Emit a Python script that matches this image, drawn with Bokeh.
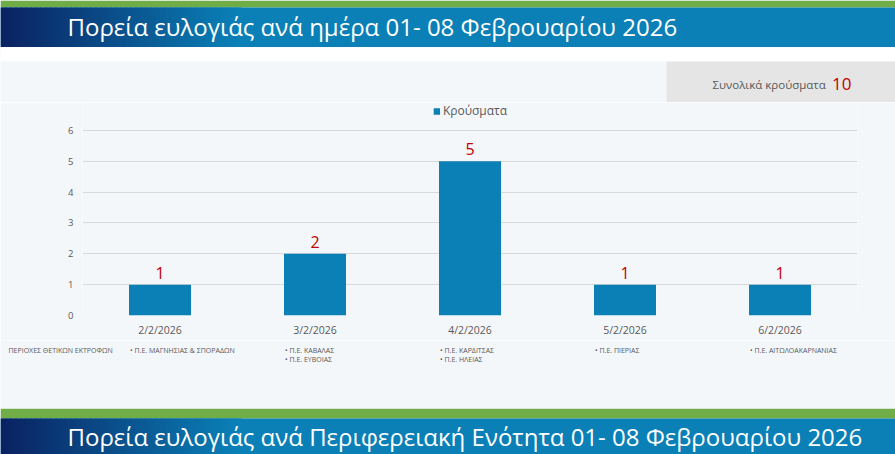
from bokeh.plotting import figure
from bokeh.layouts import column
from bokeh.models import (ColumnDataSource, FactorRange, Range1d, FixedTicker,
                          Legend, LegendItem)
from bokeh.core.properties import value
from bokeh.embed import file_html
from bokeh.resources import INLINE

# ---------------- data ----------------
dates = ["2/2/2026", "3/2/2026", "4/2/2026", "5/2/2026", "6/2/2026"]
cases = [1, 2, 5, 1, 1]
regions = [
    ["Π.Ε. ΜΑΓΝΗΣΙΑΣ & ΣΠΟΡΑΔΩΝ"],
    ["Π.Ε. ΚΑΒΑΛΑΣ", "Π.Ε. ΕΥΒΟΙΑΣ"],
    ["Π.Ε. ΚΑΡΔΙΤΣΑΣ", "Π.Ε. ΗΛΕΙΑΣ"],
    ["Π.Ε. ΠΙΕΡΙΑΣ"],
    ["Π.Ε. ΑΙΤΩΛΟΑΚΑΡΝΑΝΙΑΣ"],
]
y_ticks = [0, 1, 2, 3, 4, 5, 6]
series_name = "Κρούσματα"
title_top = "Πορεία ευλογιάς ανά ημέρα 01- 08 Φεβρουαρίου 2026"
title_bottom = "Πορεία ευλογιάς ανά Περιφερειακή Ενότητα 01- 08 Φεβρουαρίου 2026"
regions_caption = "ΠΕΡΙΟΧΕΣ ΘΕΤΙΚΩΝ ΕΚΤΡΟΦΩΝ"
total_caption = "Συνολικά κρούσματα"

# ---------------- style ----------------
W = 895
LEFT, RIGHT = 82, 38
STEP = (W - LEFT - RIGHT) / len(dates)
FONT = "Open Sans"
BAR = "#0a80b7"
GREEN = "#70ad47"
BLUE = (10, 128, 183)
NAVY = (10, 34, 98)
RED = "#c00000"
GREY_TXT = "#595959"
BG = "#f4f7fa"


def deco_fig(h, x_range=None):
    f = figure(width=W, height=h, x_range=x_range or Range1d(0, W),
               y_range=Range1d(h, 0), output_backend="svg", toolbar_location=None,
               x_axis_location=None, y_axis_location=None, min_border=0,
               frame_align=False)
    f.min_border_left = f.min_border_right = f.min_border_top = f.min_border_bottom = 0
    f.background_fill_color = BG
    f.border_fill_color = BG
    f.outline_line_color = None
    f.grid.visible = False
    f.title.visible = False
    return f


def band_fig(h, green_h, title, title_y):
    f = deco_fig(h)
    f.quad(left=0, right=W, top=0, bottom=green_h, fill_color=GREEN, line_color=None)
    f.quad(left=0, right=W, top=green_h, bottom=h,
           fill_color="#%02x%02x%02x" % BLUE, line_color=None)
    steps = 48
    lefts, rights, cols = [], [], []
    for i in range(steps):
        t = i / (steps - 1)
        c = tuple(round(a + (b - a) * t) for a, b in zip(NAVY, BLUE))
        lefts.append(i * 5)
        rights.append(i * 5 + 6)
        cols.append("#%02x%02x%02x" % c)
    f.quad(left=lefts, right=rights, top=green_h, bottom=h, fill_color=cols,
           line_color=None)
    f.text(x=[67], y=[title_y], text=[title], text_color="white",
           text_font=value(FONT), text_font_size="24px", text_baseline="middle")
    return f


# header (page y 0-47)
hdr = band_fig(47, 7, title_top, 26)

# white strip + total box (page y 47-102)
TOP_H = 55
top = deco_fig(TOP_H)
top.quad(left=0, right=W, top=0, bottom=14, fill_color="white", line_color=None)
top.quad(left=666, right=W, top=14, bottom=TOP_H, fill_color="#e5e5e5", line_color=None)
top.text(x=[712], y=[37], text=[total_caption], text_color=GREY_TXT,
         text_font=value(FONT), text_font_size="11.5px", text_baseline="middle")
top.text(x=[851], y=[36], text=[str(sum(cases))], text_color=RED,
         text_font=value(FONT), text_font_size="17px", text_baseline="middle",
         text_align="right")

# chart (page y 102-340)
p = figure(width=W, height=238, x_range=FactorRange(factors=dates, range_padding=0),
           y_range=Range1d(0, 6.908), output_backend="svg", toolbar_location=None,
           min_border_left=LEFT, min_border_right=RIGHT, min_border_top=0,
           min_border_bottom=25, frame_align=False)
p.title.visible = False
p.background_fill_color = BG
p.border_fill_color = BG
p.outline_line_color = None

src = ColumnDataSource(dict(x=dates, top=cases, lbl=[str(v) for v in cases]))
bars = p.vbar(x="x", top="top", width=0.4, source=src, fill_color=BAR, line_color=None)
p.text(x="x", y="top", text="lbl", source=src, text_align="center",
       text_baseline="alphabetic", y_offset=-12, text_color=RED,
       text_font=value(FONT), text_font_size="16px")

p.yaxis.ticker = FixedTicker(ticks=y_ticks)
p.yaxis.axis_line_color = None
p.yaxis.major_tick_line_color = None
p.yaxis.minor_tick_line_color = None
p.yaxis.major_tick_out = 0
p.yaxis.major_label_standoff = 9
p.yaxis.major_label_text_font = FONT
p.yaxis.major_label_text_font_size = "9.5px"
p.yaxis.major_label_text_color = GREY_TXT
p.xaxis.axis_line_color = None
p.xaxis.major_tick_line_color = None
p.xaxis.major_tick_out = 0
p.xaxis.major_label_standoff = 7
p.xaxis.major_label_text_font = FONT
p.xaxis.major_label_text_font_size = "10.5px"
p.xaxis.major_label_text_color = GREY_TXT
p.xgrid.grid_line_color = None
p.ygrid.grid_line_color = "#d9d9d9"

legend = Legend(items=[LegendItem(label=series_name, renderers=[bars])],
                orientation="horizontal", location="top_center",
                background_fill_alpha=0, border_line_color=None,
                label_text_font=FONT, label_text_font_size="12px",
                label_text_color=GREY_TXT, glyph_width=8, glyph_height=8,
                label_standoff=3, padding=0, margin=0, label_height=10)
p.add_layout(legend)

# regions row (page y 340-408), x in the chart's synthetic category coordinates
reg = deco_fig(68, x_range=Range1d(-LEFT / STEP, len(dates) + RIGHT / STEP))
centers = [i + 0.5 for i in range(len(dates))]
row1 = ["• " + r[0] if len(r) > 0 else "" for r in regions]
row2 = ["• " + r[1] if len(r) > 1 else "" for r in regions]
for yy, txt in ((10, row1), (19, row2)):
    reg.text(x=centers, y=[yy] * len(dates), text=txt, x_offset=-30,
             text_color=GREY_TXT, text_font=value(FONT), text_font_size="7px",
             text_baseline="middle")
reg.text(x=[-LEFT / STEP], y=[10], text=[regions_caption], x_offset=8,
         text_color=GREY_TXT, text_font=value(FONT), text_font_size="7px",
         text_baseline="middle")

# footer (page y 408-454)
ftr = band_fig(46, 10, title_bottom, 28)

layout = column(hdr, top, p, reg, ftr, spacing=0)
open("out.html", "w").write(file_html(layout, INLINE))
